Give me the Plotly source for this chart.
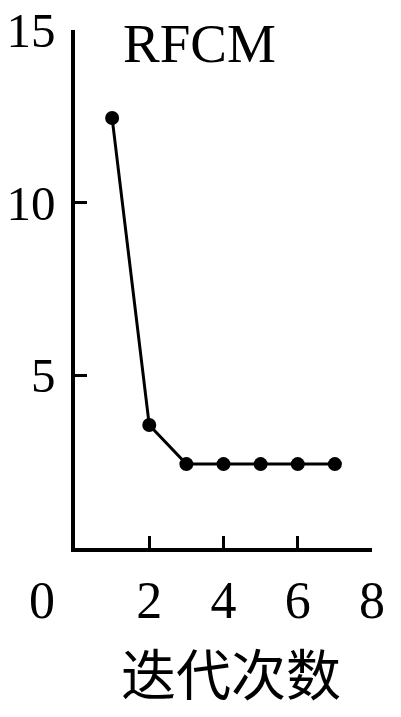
import plotly.graph_objects as go

iterations = [1, 2, 3, 4, 5, 6, 7]
values = [12.45, 3.56, 2.43, 2.43, 2.43, 2.43, 2.43]
x_ticks = [2, 4, 6, 8]
y_ticks = [5, 10, 15]
title_text = "RFCM"
x_label = "迭代次数"

serif = "Liberation Serif, Times New Roman, serif"

fig = go.Figure()
fig.add_trace(go.Scatter(
    x=iterations, y=values, mode="lines+markers",
    line=dict(color="black", width=3),
    marker=dict(color="black", size=14),
    showlegend=False, cliponaxis=False,
))

# page body has an 8px default margin; the figure is sized to fit inside it
fig.update_layout(
    width=385, height=701,
    margin=dict(l=67, r=21, t=22, b=161, autoexpand=False),
    plot_bgcolor="white", paper_bgcolor="white",
    font=dict(family=serif, size=52, color="black"),
)
fig.update_xaxes(
    range=[0, 8], tickvals=x_ticks, ticktext=[str(v) for v in x_ticks],
    ticks="inside", ticklen=12, tickwidth=3, tickcolor="black",
    showline=True, linecolor="black", linewidth=3.5,
    showgrid=False, zeroline=False, automargin=False,
    tickfont=dict(family=serif, size=52),
    ticklabelstandoff=4, ticklabeloverflow="allow",
)
fig.update_yaxes(
    range=[0, 15], tickvals=y_ticks, ticktext=[str(v) for v in y_ticks],
    ticks="inside", ticklen=12, tickwidth=3, tickcolor="black",
    showline=True, linecolor="black", linewidth=3.5,
    showgrid=False, zeroline=False, automargin=False,
    tickfont=dict(family=serif, size=49),
    ticklabelstandoff=6, ticklabeloverflow="allow",
)

fig.add_annotation(text=title_text, x=0.16, y=1.0, xref="paper", yref="paper",
                   xanchor="left", yanchor="middle", yshift=-13, xshift=-2,
                   showarrow=False,
                   font=dict(family=serif, size=55, color="black"))
fig.add_annotation(text="0", x=0, y=0, xref="x", yref="y",
                   xanchor="center", yanchor="middle", xshift=-33, yshift=-52,
                   showarrow=False, font=dict(family=serif, size=52, color="black"))
fig.add_annotation(text=x_label, x=0.5, y=0, xref="paper", yref="paper",
                   xanchor="center", yanchor="middle", yshift=-123, xshift=7,
                   showarrow=False,
                   font=dict(family="Noto Sans CJK SC", size=55, color="black"))

fig.write_html("out.html")
